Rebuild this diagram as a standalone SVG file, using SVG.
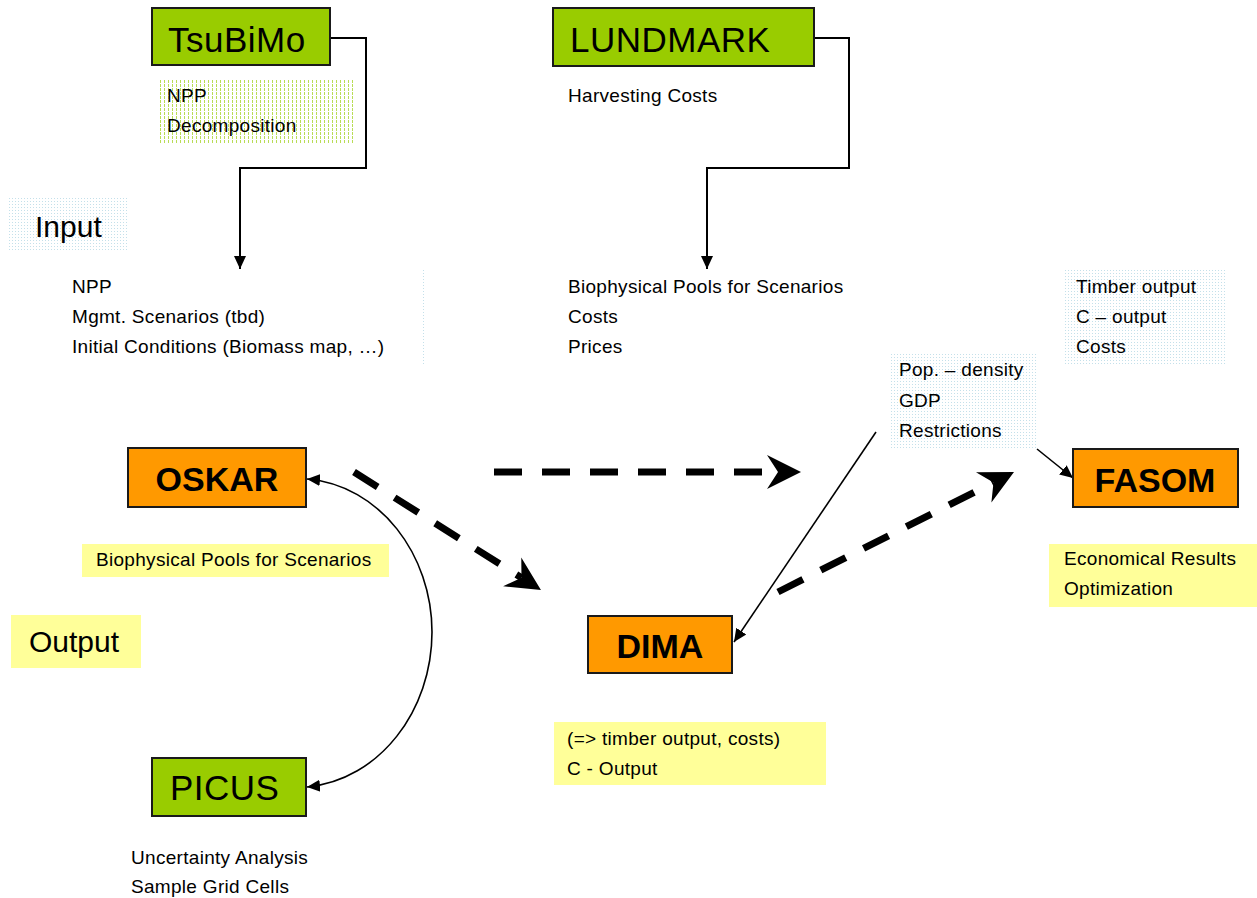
<svg xmlns="http://www.w3.org/2000/svg" width="1257" height="898" viewBox="0 0 1257 898">
<defs>
<style>
text{font-family:"Liberation Sans",Arial,sans-serif;fill:#000}
.s{font-size:19px;letter-spacing:0.3px}
.big{font-size:35px;letter-spacing:0.5px}
.bold{font-size:34px;font-weight:bold}
.lbl{font-size:30px}
.green{fill:#99CC00;stroke:#1a1a1a;stroke-width:2}
.orange{fill:#FF9900;stroke:#1a1a1a;stroke-width:2}
.yellow{fill:#FFFF99}
.conn{fill:none;stroke:#000;stroke-width:2}
.thin{fill:none;stroke:#000;stroke-width:1.6}
.dash{fill:none;stroke:#000;stroke-width:7;stroke-dasharray:28 20}
</style>
<pattern id="pg" width="4" height="4" patternUnits="userSpaceOnUse">
<rect x="0" y="0" width="1" height="3" fill="#b9dc55"/>
</pattern>
<pattern id="pb" width="3" height="3" patternUnits="userSpaceOnUse">
<rect x="0" y="0" width="1" height="1" fill="#c4e0ea"/>
</pattern>
<marker id="big" markerUnits="userSpaceOnUse" markerWidth="40" markerHeight="40" viewBox="-2 -20 40 40" refX="11" refY="0" orient="auto">
<path d="M0,-17 L34,0 L0,17 L11,0 z" fill="#000"/>
</marker>
<marker id="sm" markerUnits="userSpaceOnUse" markerWidth="14" markerHeight="14" viewBox="0 -7 14 14" refX="13" refY="0" orient="auto-start-reverse">
<path d="M0,-6 L13,0 L0,6 z" fill="#000"/>
</marker>
</defs>
<rect width="1257" height="898" fill="#fff"/>

<g id="bg-boxes">
<rect x="157" y="79" width="196" height="64" fill="url(#pg)"/>
<rect x="9" y="198" width="120" height="52" fill="url(#pb)"/>
<rect x="422" y="270" width="3" height="95" fill="url(#pb)"/>
<rect x="1063" y="270" width="164" height="96" fill="url(#pb)"/>
<rect x="889" y="353" width="149" height="95" fill="url(#pb)"/>
</g>

<g id="connectors">
<polyline class="conn" points="330,38 366,38 366,168 240,168 240,269" marker-end="url(#sm)"/>
<polyline class="conn" points="814,38 849,38 849,168 707,168 707,269" marker-end="url(#sm)"/>
<line class="thin" x1="1037" y1="449" x2="1073" y2="478" marker-end="url(#sm)"/>
<line class="thin" x1="876" y1="432" x2="734" y2="642" marker-end="url(#sm)"/>
<path class="thin" d="M307,479 C380,485 432,555 432,632 C432,710 380,780 307,787" marker-start="url(#sm)" marker-end="url(#sm)"/>
<line class="dash" x1="494" y1="472" x2="778" y2="472" marker-end="url(#big)"/>
<line class="dash" x1="354" y1="472" x2="521.5" y2="577.7" marker-end="url(#big)"/>
<line class="dash" x1="778" y1="592" x2="993.5" y2="482.4" marker-end="url(#big)"/>
</g>

<g id="tsubimo">
<rect class="green" x="152" y="8" width="178" height="57"/>
<text class="big" x="168" y="52">TsuBiMo</text>
<text class="s" x="167" y="102">NPP</text>
<text class="s" x="167" y="132">Decomposition</text>
</g>

<g id="lundmark">
<rect class="green" x="553" y="8" width="261" height="58"/>
<text class="big" x="570" y="52">LUNDMARK</text>
<text class="s" x="568" y="102">Harvesting Costs</text>
</g>

<g id="input">
<text class="lbl" x="35" y="237">Input</text>
<text class="s" x="72" y="293">NPP</text>
<text class="s" x="72" y="323">Mgmt. Scenarios (tbd)</text>
<text class="s" x="72" y="353">Initial Conditions (Biomass map,  …)</text>
</g>

<g id="dima-input">
<text class="s" x="568" y="293">Biophysical Pools for Scenarios</text>
<text class="s" x="568" y="323">Costs</text>
<text class="s" x="568" y="353">Prices</text>
</g>

<g id="fasom-input">
<text class="s" x="1076" y="293">Timber output</text>
<text class="s" x="1076" y="323">C – output</text>
<text class="s" x="1076" y="353">Costs</text>
</g>

<g id="socio-input">
<text class="s" x="899" y="376">Pop. – density</text>
<text class="s" x="899" y="407">GDP</text>
<text class="s" x="899" y="437">Restrictions</text>
</g>

<g id="oskar">
<rect class="orange" x="128" y="448" width="178" height="59"/>
<text class="bold" x="217" y="491" text-anchor="middle">OSKAR</text>
<rect class="yellow" x="82" y="544" width="307" height="33"/>
<text class="s" x="96" y="566">Biophysical Pools for Scenarios</text>
</g>

<g id="output">
<rect class="yellow" x="11" y="615" width="130" height="53"/>
<text class="lbl" x="29" y="652">Output</text>
</g>

<g id="fasom">
<rect class="orange" x="1073" y="449" width="165" height="58"/>
<text class="bold" x="1155" y="492" text-anchor="middle">FASOM</text>
<rect class="yellow" x="1049" y="544" width="208" height="63"/>
<text class="s" x="1064" y="565">Economical Results</text>
<text class="s" x="1064" y="595">Optimization</text>
</g>

<g id="dima">
<rect class="orange" x="588" y="616" width="144" height="57"/>
<text class="bold" x="660" y="658" text-anchor="middle">DIMA</text>
<rect class="yellow" x="554" y="722" width="272" height="63"/>
<text class="s" x="567" y="745">(=&gt; timber output, costs)</text>
<text class="s" x="567" y="775">C - Output</text>
</g>

<g id="picus">
<rect class="green" x="152" y="758" width="154" height="58"/>
<text class="big" x="170" y="800">PICUS</text>
<text class="s" x="131" y="864">Uncertainty Analysis</text>
<text class="s" x="131" y="893">Sample Grid Cells</text>
</g>
</svg>
